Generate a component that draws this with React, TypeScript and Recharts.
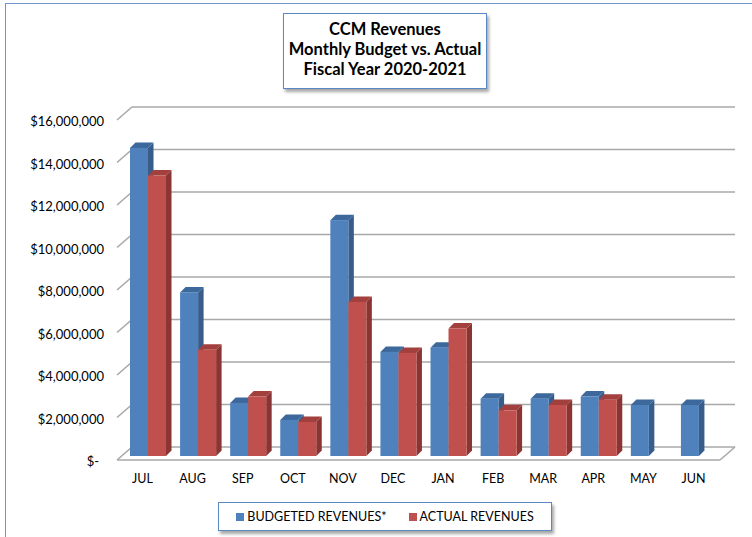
import React from "react";
import { BarChart, Bar, XAxis, YAxis, CartesianGrid } from "recharts";

const months = ["JUL", "AUG", "SEP", "OCT", "NOV", "DEC", "JAN", "FEB", "MAR", "APR", "MAY", "JUN"];
const budgeted = [14500000, 7700000, 2500000, 1700000, 11100000, 4900000, 5100000, 2700000, 2700000, 2800000, 2400000, 2400000];
const actual = [13200000, 5000000, 2800000, 1600000, 7250000, 4850000, 6000000, 2150000, 2400000, 2650000, null, null];
const yTicks = [0, 2000000, 4000000, 6000000, 8000000, 10000000, 12000000, 14000000, 16000000];
const seriesNames = ["BUDGETED REVENUES*", "ACTUAL REVENUES"];
const titleLines = ["CCM Revenues", "Monthly Budget vs. Actual", "Fiscal Year 2020-2021"];

const data = months.map((m, i) => ({ month: m, budgeted: budgeted[i], actual: actual[i] }));

const W = 752;
const H = 537;
const PLOT_TOP = 116;
const PLOT_BOTTOM = 456;
const PLOT_LEFT = 122.5;
const PLOT_RIGHT = 723.5;
const FONT = "Lato, 'Open Sans', sans-serif";
const GRID = "#a8a8a8";
const D = 5.5; // bar depth

const colors = {
  budgeted: { front: "#4f81bd", side: "#385d8a", top: "#3d689c" },
  actual: { front: "#c0504d", side: "#8a3533", top: "#a2403d" },
};

const make3D = (c: { front: string; side: string; top: string }) => (p: any) => {
  const { x, y, width: w, height: h } = p;
  if (h == null || h <= 0) return null;
  return (
    <g>
      <polygon points={`${x + w},${y} ${x + w + D},${y - D} ${x + w + D},${y + h - D} ${x + w},${y + h}`} fill={c.side} />
      <polygon points={`${x},${y} ${x + D},${y - D} ${x + w + D},${y - D} ${x + w},${y}`} fill={c.top} />
      <rect x={x} y={y} width={w} height={h} fill={c.front} />
    </g>
  );
};

const gridLine = (p: any) => {
  const y = p.y1;
  const bx1 = PLOT_LEFT + 9.5;
  const bx2 = PLOT_RIGHT + 11.5;
  const floor = Math.abs(y - PLOT_BOTTOM) < 1;
  return (
    <g key={p.key}>
      <line x1={PLOT_LEFT - 5.5} y1={y + 4} x2={bx1} y2={y - 9} stroke={GRID} strokeWidth={1.6} />
      <line x1={bx1} y1={y - 9} x2={bx2} y2={y - 9} stroke={GRID} strokeWidth={1.6} />
      {floor && (
        <>
          <line x1={PLOT_LEFT - 5.5} y1={y + 4} x2={PLOT_RIGHT - 3.5} y2={y + 4} stroke={GRID} strokeWidth={1.6} />
          <line x1={PLOT_RIGHT - 3.5} y1={y + 4} x2={bx2} y2={y - 9} stroke={GRID} strokeWidth={1.6} />
        </>
      )}
    </g>
  );
};

const YTick = ({ y, payload }: any) => {
  const v = payload.value;
  const label = v === 0 ? "$-" : "$" + v.toLocaleString("en-US");
  return (
    <text x={v === 0 ? 99 : 104} y={y + 5} textAnchor="end" dominantBaseline="central" fontFamily={FONT} fontSize={13} fill="#000">
      {label}
    </text>
  );
};

const XTick = ({ x, payload }: any) => (
  <text x={x - 5} y={478} textAnchor="middle" dominantBaseline="central" fontFamily={FONT} fontSize={12.5} fill="#000">
    {payload.value}
  </text>
);

export default function App() {
  return (
    <div style={{ position: "absolute", left: 0, top: 0, width: W, height: H, background: "#fff", overflow: "hidden" }}>
      <div style={{ position: "absolute", left: 5, top: 3, right: -4, bottom: -4, borderLeft: "1.5px solid #7097cd", borderTop: "1.5px solid #7097cd" }} />
      <BarChart
        width={W}
        height={H}
        data={data}
        barCategoryGap="15%"
        barGap={0}
        margin={{ top: PLOT_TOP, bottom: H - PLOT_BOTTOM - 30, left: PLOT_LEFT - 100, right: W - PLOT_RIGHT }}
      >
        <CartesianGrid vertical={false} horizontal={gridLine} />
        <YAxis width={100} domain={[0, 16000000]} ticks={yTicks} axisLine={false} tickLine={false} tick={<YTick />} interval={0} />
        <XAxis dataKey="month" height={30} axisLine={false} tickLine={false} tick={<XTick />} interval={0} />
        <Bar dataKey="budgeted" name={seriesNames[0]} fill={colors.budgeted.front} shape={make3D(colors.budgeted)} isAnimationActive={false} />
        <Bar dataKey="actual" name={seriesNames[1]} fill={colors.actual.front} shape={make3D(colors.actual)} isAnimationActive={false} />
      </BarChart>
      <div
        style={{
          position: "absolute", left: 283, top: 13, width: 202, height: 69, border: "1.5px solid #5b87c4",
          boxShadow: "2px 3px 3px rgba(0,0,0,0.35)", background: "#fff", fontFamily: FONT, fontWeight: 700,
          fontSize: 16.5, lineHeight: "20px", textAlign: "center", paddingTop: 5, boxSizing: "content-box",
          whiteSpace: "nowrap",
        }}
      >
        {titleLines.map((t) => (
          <div key={t}>{t}</div>
        ))}
      </div>
      <div
        style={{
          position: "absolute", left: 218, top: 502, width: 332, height: 27, border: "1.5px solid #5b87c4",
          boxShadow: "2px 3px 3px rgba(0,0,0,0.35)", background: "#fff", fontFamily: FONT, fontSize: 12.5,
          display: "flex", alignItems: "center", justifyContent: "center", gap: 22,
        }}
      >
        {seriesNames.map((n, i) => (
          <span key={n} style={{ display: "flex", alignItems: "center" }}>
            <span style={{ display: "inline-block", width: 8, height: 8, marginRight: 3, background: i === 0 ? colors.budgeted.front : colors.actual.front }} />
            {n}
          </span>
        ))}
      </div>
    </div>
  );
}
